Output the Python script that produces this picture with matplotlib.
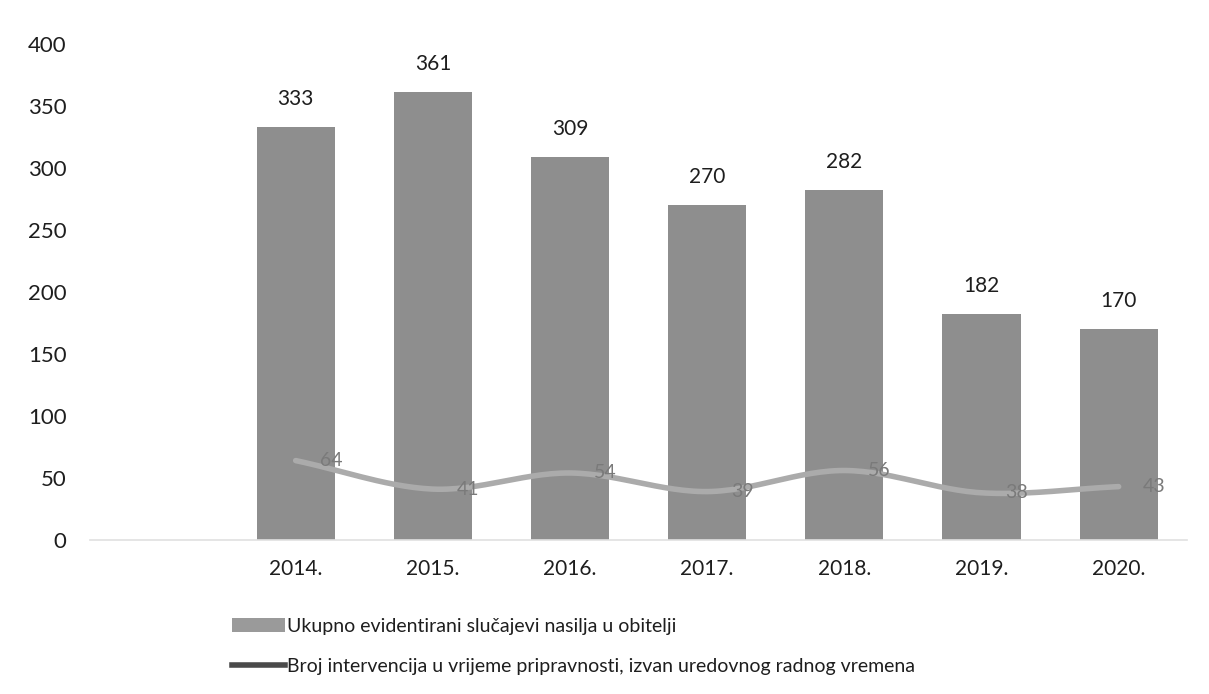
import numpy as np
import matplotlib.pyplot as plt
from matplotlib.patches import Patch
from matplotlib.lines import Line2D

years = ['2014.', '2015.', '2016.', '2017.', '2018.', '2019.', '2020.']
total_cases = [333, 361, 309, 270, 282, 182, 170]
interventions = [64, 41, 54, 39, 56, 38, 43]

bar_label = 'Ukupno evidentirani slučajevi nasilja u obitelji'
line_label = 'Broj intervencija u vrijeme pripravnosti, izvan uredovnog radnog vremena'

plt.rcParams['font.family'] = ['Lato', 'DejaVu Sans']


def catmull_rom(x, y, n=30):
    # smooth curve through the points, like Excel's smoothed line
    x = np.asarray(x, float)
    y = np.asarray(y, float)
    px = np.concatenate([[2 * x[0] - x[1]], x, [2 * x[-1] - x[-2]]])
    py = np.concatenate([[2 * y[0] - y[1]], y, [2 * y[-1] - y[-2]]])
    xs, ys = [], []
    t = np.linspace(0, 1, n)
    for i in range(1, len(px) - 2):
        for p, out in ((px, xs), (py, ys)):
            p0, p1, p2, p3 = p[i - 1], p[i], p[i + 1], p[i + 2]
            out.append(0.5 * (2 * p1 + (-p0 + p2) * t
                              + (2 * p0 - 5 * p1 + 4 * p2 - p3) * t ** 2
                              + (-p0 + 3 * p1 - 3 * p2 + p3) * t ** 3))
    return np.concatenate(xs), np.concatenate(ys)


fig = plt.figure(figsize=(12.09, 6.94), dpi=100)
ax = fig.add_axes([0.0744, 0.222, 0.9076, 0.7146])

pos = np.arange(1, len(years) + 1)
ax.bar(pos, total_cases, width=0.57, color='#8e8e8e', zorder=2)
sx, sy = catmull_rom(pos, interventions)
ax.plot(sx, sy, color='#ababab', lw=4, solid_capstyle='round', zorder=3)

for x, v in zip(pos, total_cases):
    ax.annotate(str(v), (x, v), xytext=(0, 18), textcoords='offset pixels',
                ha='center', va='bottom', fontsize=15, color='#1e1e1e')
for x, v in zip(pos, interventions):
    ax.annotate(str(v), (x, v), xytext=(24, 0), textcoords='offset pixels',
                ha='left', va='center', fontsize=14, color='#7a7a7a', zorder=4)

ax.set_xlim(-0.5, len(years) + 0.5)
ax.set_ylim(0, 400)
ax.set_yticks(range(0, 401, 50))
ax.set_xticks(pos)
ax.set_xticklabels(years)
ax.tick_params(axis='both', length=0, labelsize=15, colors='#1e1e1e')
ax.tick_params(axis='y', pad=17, labelsize=16)
ax.tick_params(axis='x', pad=14)
for s in ['top', 'right', 'left']:
    ax.spines[s].set_visible(False)
ax.spines['bottom'].set_color('#e0e0e0')
ax.spines['bottom'].set_linewidth(1.2)

handles = [Patch(facecolor='#9a9a9a', edgecolor='none'),
           Line2D([], [], color='#4a4a4a', lw=4)]
fig.legend(handles, [bar_label, line_label], loc='upper left',
           bbox_to_anchor=(0.192, 0.11), frameon=False,
           fontsize=14, handlelength=2.7, handletextpad=0.1, labelspacing=1.2,
           borderpad=0, borderaxespad=0, labelcolor='#1e1e1e')

fig.savefig('out.png', dpi=100)
